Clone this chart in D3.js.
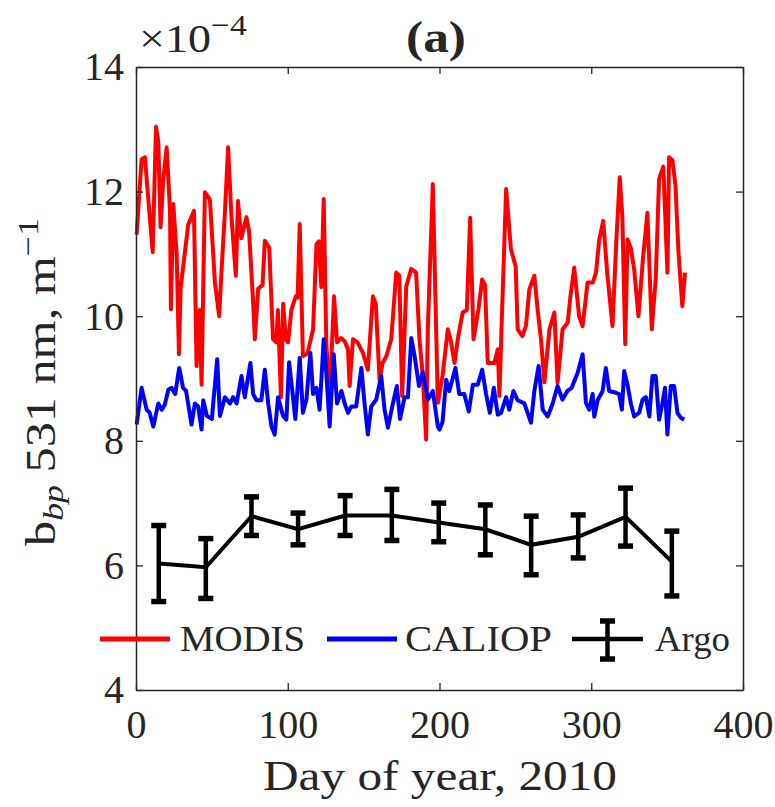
<!DOCTYPE html>
<html lang="en">
<head>
<meta charset="utf-8">
<title>bbp 531 nm, 2010</title>
<script src="https://cdn.jsdelivr.net/npm/d3@7"></script>
<style type="text/css">
body { margin: 0; background: #fff; }
text { font-family: "Liberation Serif", "Times New Roman", serif; fill: #262626; }
</style>
</head>
<body>
<script type="text/javascript">

// MODIS, day of year and bbp (x1e-4)
var modisDay = [0.4,3.7,5.9,8.1,11,13.2,14.7,16.2,18,20.2,22.4,23,24.6,26.8,28.3,29.4,34.4,38.2,39.9,42,43.2,45.4,48.7,52,54.8,56.3,58.6,60.7,62.9,65.8,67.2,69.4,72.8,74.5,77.2,78.3,80.5,83.4,84.9,87.8,90.3,92.5,93.5,95.5,97,98.7,100.2,102.4,105.3,106.5,107.9,110,113,116.7,118.9,120.5,122.1,123.7,125.4,127.6,130.5,132.5,135,137.5,139.7,140.8,143,146,149.6,152.8,156.1,158,160.5,162.5,165,168.2,171.5,173.5,175.4,178.1,181.4,184.6,186.8,189,191.2,192.3,195.6,198.9,202,205.5,207.5,209.9,212.5,215.3,218,220.2,222.4,225.6,228.1,230,231.8,236.2,238.4,239.5,241,243.9,247.1,250.2,251.5,254.6,257,259.2,262.5,264.7,267,269.1,272.5,275.7,277.8,281.1,284.5,286.2,288.8,292,294.3,297.6,301,303.1,305.3,307.9,310.5,314,316.5,318.8,320.5,322.4,323.9,326,328.3,331.1,334,337,339.9,342.5,344.7,347.5,350.2,351.3,353.5,355.5,357.5,360,361.8];
var modisVal = [11.31,12.52,12.55,11.88,11.03,13.04,12.8,11.43,12.2,12.71,11.7,10.11,11.8,11.0,9.39,10.45,11.47,11.69,9.2,10.1,8.9,11.99,11.87,10.54,10.0,10.7,11.67,12.71,11.6,10.65,11.85,11.25,11.59,11.36,10.22,9.63,10.44,10.5,11.21,11.1,9.63,9.58,10.1,8.7,10.2,9.63,9.58,10.1,10.32,10.3,11.48,9.36,9.4,9.79,11.15,11.2,10.47,11.88,9.58,8.66,10.32,9.58,9.65,9.6,9.47,8.88,9.63,9.58,9.41,9.14,10.32,10.2,8.98,9.25,9.36,9.63,10.7,10.65,8.72,10.48,10.76,10.7,9.63,9.04,8.02,9.79,12.12,8.61,9.04,9.79,9.6,9.25,9.7,10.06,10.1,11.58,9.63,10.1,10.59,10.5,9.25,9.25,9.47,8.72,9.9,12.04,11.07,10.8,9.79,9.68,9.85,10.43,10.65,10.1,9.6,8.94,9.79,10.06,8.93,9.79,9.9,10.3,10.78,10.0,9.84,10.54,10.54,10.7,11.23,11.53,10.7,9.84,11.2,12.23,11.6,9.55,11.23,11.1,10.75,10.0,10.9,11.66,9.79,10.6,12.2,12.4,10.7,12.55,12.5,12.1,11.02,10.16,10.7];

// CALIOP
var caliopDay = [0.4,3.7,7,9,11.4,14.7,17,19,21.3,23.5,25.8,28.5,31,33,36.6,38.8,41,43.2,44.3,46.7,50,53.5,55.3,58.6,62,64,66.3,69.5,71.7,75.4,77.2,79.4,82.6,84.9,87.1,89.3,91.4,93.6,96.9,99.1,100.9,103,105,107.9,110,112.3,114.9,116.7,118.9,121,123.7,125.4,127.6,130.3,132.5,135.4,137.5,139.7,141.9,145.1,148.5,150.6,152.8,155,158.3,161.6,163.8,166,169.3,171.9,174,177,179.2,181.4,183.6,186.5,189,192.3,195.6,198.9,200,202,204.4,206.5,210.5,213,216.3,219.3,222,225.2,228.1,230.7,233.2,235.8,238.4,240.6,243.9,246,248.7,251.5,255.9,260.3,262.5,265.3,268,271.3,274.6,277.8,281,284.3,287.1,291,294.3,296.5,298.7,300.9,302,304.2,307.5,309.6,311.8,315.1,318.4,320.2,321.7,323.9,326.1,328.3,331.6,333.8,336,338.3,340.3,342.5,344.7,346.9,348.6,350.2,352.4,354.6,356.8,359,361.3];
var caliopVal = [8.26,8.85,8.5,8.45,8.23,8.6,8.5,8.58,8.82,8.85,8.75,9.17,8.85,8.8,8.26,8.6,8.55,8.18,8.65,8.4,8.35,9.31,8.4,8.7,8.6,8.7,8.6,9.04,8.7,9.25,8.75,8.65,8.65,9.14,8.6,8.23,8.1,8.7,8.4,8.34,9.26,8.8,8.35,9.33,8.45,8.66,9.41,8.75,8.85,8.5,9.63,9.1,8.23,9.39,8.6,8.8,8.6,8.45,8.55,8.55,9.17,8.6,8.1,8.55,8.66,9.04,8.5,8.21,8.6,8.88,8.35,8.7,8.7,9.65,9.36,8.88,9.1,8.66,8.8,8.23,8.18,8.3,8.98,8.8,9.17,8.75,8.75,8.47,8.9,8.9,9.14,8.75,8.45,8.85,8.42,8.45,8.7,8.5,8.8,8.65,8.6,8.29,8.8,9.2,8.5,8.39,8.6,8.88,8.66,8.8,8.85,9.09,9.39,8.61,8.5,8.75,8.39,8.65,8.8,9.17,8.8,8.78,8.75,8.5,9.12,8.9,8.6,8.39,8.45,8.66,8.7,8.39,9.04,9.04,8.34,8.6,8.85,8.1,8.88,8.88,8.45,8.37,8.34];

// Argo monthly means with error bars
var argoDay = [15.0,46.0,76.1,106.8,137.8,168.6,199.5,230.2,260.4,291.4,322.6,353.1];
var argoVal = [6.03,5.97,6.79,6.58,6.80,6.80,6.69,6.58,6.33,6.46,6.78,6.06];
var argoHi  = [6.64,6.43,7.10,6.84,7.12,7.22,7.00,6.97,6.79,6.81,7.24,6.55];
var argoLo  = [5.42,5.47,6.48,6.33,6.48,6.40,6.38,6.17,5.85,6.12,6.31,5.51];

var xTicks = [0,100,200,300,400];
var yTicks = [4,6,8,10,12,14];
var seriesNames = ["MODIS","CALIOP","Argo"];
var seriesColors = ["#ff0000","#0000ff","#000000"];

var svgWidth = 775, svgHeight = 807;
var plotL = 136, plotR = 743, plotT = 67, plotB = 690;

var svg = d3.select("body").append("svg")
    .attr("width", svgWidth)
    .attr("height", svgHeight);

var x = d3.scaleLinear().domain([0,400]).range([plotL,plotR]);
var y = d3.scaleLinear().domain([4,14]).range([plotB,plotT]);

// lines
var line = d3.line().x(function(d){ return x(d[0]); }).y(function(d){ return y(d[1]); });

svg.append("path")
    .datum(d3.zip(modisDay, modisVal))
    .attr("d", line)
    .attr("fill", "none")
    .attr("stroke", seriesColors[0])
    .attr("stroke-width", 4)
    .attr("stroke-linejoin", "round");

svg.append("path")
    .datum(d3.zip(caliopDay, caliopVal))
    .attr("d", line)
    .attr("fill", "none")
    .attr("stroke", seriesColors[1])
    .attr("stroke-width", 4)
    .attr("stroke-linejoin", "round");

svg.append("path")
    .datum(d3.zip(argoDay, argoVal))
    .attr("d", line)
    .attr("fill", "none")
    .attr("stroke", seriesColors[2])
    .attr("stroke-width", 4);

var argo = d3.range(argoDay.length).map(function(i){
    return {d: argoDay[i], hi: argoHi[i], lo: argoLo[i]};
});
var eb = svg.append("g").attr("stroke", "#000").attr("stroke-width", 4.5);
eb.selectAll(".stem").data(argo).enter().append("line")
    .attr("x1", function(d){ return x(d.d); })
    .attr("x2", function(d){ return x(d.d); })
    .attr("y1", function(d){ return y(d.hi); })
    .attr("y2", function(d){ return y(d.lo); });
eb.selectAll(".capHi").data(argo).enter().append("line")
    .attr("x1", function(d){ return x(d.d) - 7.5; })
    .attr("x2", function(d){ return x(d.d) + 7.5; })
    .attr("y1", function(d){ return y(d.hi); })
    .attr("y2", function(d){ return y(d.hi); })
    .attr("stroke-width", 5.5);
eb.selectAll(".capLo").data(argo).enter().append("line")
    .attr("x1", function(d){ return x(d.d) - 7.5; })
    .attr("x2", function(d){ return x(d.d) + 7.5; })
    .attr("y1", function(d){ return y(d.lo); })
    .attr("y2", function(d){ return y(d.lo); })
    .attr("stroke-width", 5.5);

// axes (ticks pointing inward, box on)
function styleAxis(g) {
    g.select(".domain").attr("stroke", "#262626").attr("stroke-width", 1.5);
    g.selectAll(".tick line").attr("stroke", "#262626").attr("stroke-width", 1.3);
    g.selectAll(".tick text").attr("fill", "#262626")
        .style("font-size", "40px")
        .style("font-family", '"Liberation Serif", serif');
}

svg.append("g")
    .attr("transform", "translate(0," + plotB + ")")
    .call(d3.axisBottom(x).tickValues(xTicks).tickSize(-7).tickSizeOuter(0).tickPadding(20))
    .call(styleAxis);

svg.append("g")
    .attr("transform", "translate(0," + plotT + ")")
    .call(d3.axisTop(x).tickValues(xTicks).tickSize(-7).tickSizeOuter(0).tickFormat(""))
    .call(styleAxis);

svg.append("g")
    .attr("transform", "translate(" + plotL + ",0)")
    .call(d3.axisLeft(y).tickValues(yTicks).tickSize(-7).tickSizeOuter(0).tickPadding(12))
    .call(styleAxis);

svg.append("g")
    .attr("transform", "translate(" + plotR + ",0)")
    .call(d3.axisRight(y).tickValues(yTicks).tickSize(-7).tickSizeOuter(0).tickFormat(""))
    .call(styleAxis);

// exponent label
var ex = svg.append("text").attr("x", 139).attr("y", 52)
    .attr("textLength", 108)
    .attr("lengthAdjust", "spacingAndGlyphs")
    .style("font-size", "41px");
ex.append("tspan").text("\u00d710");
ex.append("tspan").attr("dy", -17).style("font-size", "30px").text("\u22124");

// title
svg.append("text")
    .attr("x", 436).attr("y", 52)
    .attr("text-anchor", "middle")
    .attr("textLength", 60)
    .attr("lengthAdjust", "spacingAndGlyphs")
    .style("font-size", "44px")
    .style("font-weight", "bold")
    .text("(a)");

// x label
svg.append("text")
    .attr("x", 440).attr("y", 790)
    .attr("text-anchor", "middle")
    .attr("textLength", 354)
    .attr("lengthAdjust", "spacingAndGlyphs")
    .style("font-size", "42px")
    .text("Day of year, 2010");

// y label
var yl = svg.append("text")
    .attr("transform", "translate(55,382) rotate(-90)")
    .attr("text-anchor", "middle")
    .attr("textLength", 328)
    .attr("lengthAdjust", "spacingAndGlyphs")
    .style("font-size", "42px");
yl.append("tspan").text("b");
yl.append("tspan").attr("dy", 8).style("font-size", "30px").style("font-style", "italic").text("bp");
yl.append("tspan").attr("dy", -8).text(" 531 nm, m");
yl.append("tspan").attr("dy", -17).style("font-size", "30px").text("\u22121");

// legend
var legX = [100, 327, 572];
var legLen = [70, 70, 71];
var legTextX = [180, 405, 655];
var legTextW = [125, 147, 75];
var legY = 639;
var leg = svg.append("g");
seriesNames.forEach(function(name, i) {
    leg.append("line")
        .attr("x1", legX[i]).attr("x2", legX[i] + legLen[i])
        .attr("y1", legY).attr("y2", legY)
        .attr("stroke", seriesColors[i])
        .attr("stroke-width", i < 2 ? 5 : 4.5);
    if (i == 2) {
        var cx = legX[i] + legLen[i] / 2;
        leg.append("line").attr("x1", cx).attr("x2", cx).attr("y1", legY - 18).attr("y2", legY + 20)
            .attr("stroke", "#000").attr("stroke-width", 4.5);
        [legY - 18, legY + 20].forEach(function(yy) {
            leg.append("line").attr("x1", cx - 7.5).attr("x2", cx + 7.5).attr("y1", yy).attr("y2", yy)
                .attr("stroke", "#000").attr("stroke-width", 5.5);
        });
    }
    leg.append("text")
        .attr("x", legTextX[i])
        .attr("y", legY + 12)
        .attr("textLength", legTextW[i])
        .attr("lengthAdjust", "spacingAndGlyphs")
        .style("font-size", "35px")
        .text(name);
});

</script>
</body>
</html>
